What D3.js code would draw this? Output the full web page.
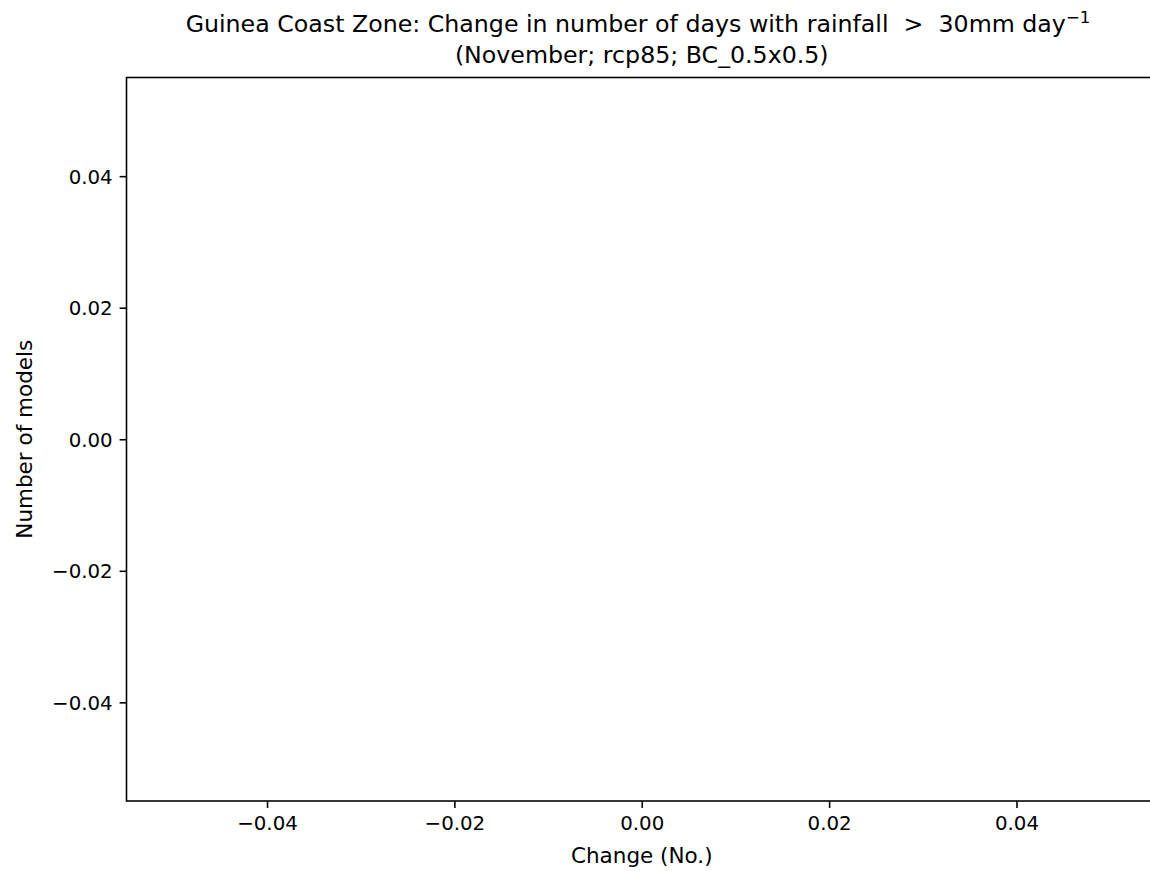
<!DOCTYPE html>
<html>
<head>
<meta charset="utf-8">
<script src="https://cdn.jsdelivr.net/npm/d3@7"></script>
<style>
  html, body { margin: 0; padding: 0; background: #fff; }
  svg { display: block; font-family: "DejaVu Sans", sans-serif; }
</style>
</head>
<body>
<svg id="chart" width="1150" height="871"></svg>
<script>
// ---- data (the reference histogram is empty: no model values) ----
const changeValues = [];            // change per model (none)
const modelCounts = [];             // counts per bin (none)
const xDomain = [-0.055, 0.055];
const yDomain = [-0.055, 0.055];
const xTicks = [-0.04, -0.02, 0.00, 0.02, 0.04];
const yTicks = [-0.04, -0.02, 0.00, 0.02, 0.04];
const titleLine1 = "Guinea Coast Zone: Change in number of days with rainfall  >  30mm day";
const titleSup = "\u22121";
const titleLine2 = "(November; rcp85; BC_0.5x0.5)";
const xLabel = "Change (No.)";
const yLabel = "Number of models";

// ---- layout ----
const svg = d3.select("#chart");
const pL = 126.5, pR = 1157, pT = 77.5, pB = 801;
const tickFont = 19.8, labelFont = 21.5, titleFont = 23.7, tickLen = 6.9, tickPad = 6.9, lw = 1.57;

const x = d3.scaleLinear().domain(xDomain).range([pL, pR]);
const y = d3.scaleLinear().domain(yDomain).range([pB, pT]);
const fmt = d3.format(".2f");

// bars (none in the reference)
svg.append("g").selectAll("rect").data(modelCounts).join("rect");

// axes
const gx = svg.append("g").attr("transform", `translate(0,${pB})`)
  .call(d3.axisBottom(x).tickValues(xTicks).tickFormat(fmt).tickSizeOuter(0).tickSize(tickLen).tickPadding(tickPad));
const gy = svg.append("g").attr("transform", `translate(${pL},0)`)
  .call(d3.axisLeft(y).tickValues(yTicks).tickFormat(fmt).tickSizeOuter(0).tickSize(tickLen).tickPadding(tickPad));
[gx, gy].forEach(g => {
  g.select(".domain").remove();
  g.selectAll(".tick line").attr("stroke", "#000").attr("stroke-width", lw);
  g.selectAll(".tick text").attr("fill", "#000").style("font-size", tickFont + "px")
    .style("font-family", "DejaVu Sans, sans-serif");
});
gx.selectAll(".tick text").attr("dy", "0.78em");
gy.selectAll(".tick text").attr("dy", "0.36em");

// frame (spines)
svg.append("rect").attr("x", pL).attr("y", pT)
  .attr("width", pR - pL).attr("height", pB - pT)
  .attr("fill", "none").attr("stroke", "#000").attr("stroke-width", lw);

// axis labels
svg.append("text").attr("x", (pL + pR) / 2).attr("y", 863)
  .attr("text-anchor", "middle").style("font-size", labelFont + "px").attr("fill", "#000")
  .text(xLabel);
svg.append("text").attr("transform", `translate(31.5,${(pT + pB) / 2}) rotate(-90)`)
  .attr("text-anchor", "middle").style("font-size", labelFont + "px").attr("fill", "#000")
  .text(yLabel);

// title
const t1 = svg.append("text").attr("x", 638).attr("y", 31.7)
  .attr("text-anchor", "middle").style("font-size", titleFont + "px").attr("fill", "#000")
  .style("white-space", "pre").attr("xml:space", "preserve");
t1.append("tspan").text(titleLine1);
t1.append("tspan").attr("dy", -9).style("font-size", (titleFont * 0.7) + "px").text(titleSup);
svg.append("text").attr("x", (pL + pR) / 2).attr("y", 62.5)
  .attr("text-anchor", "middle").style("font-size", titleFont + "px").attr("fill", "#000")
  .text(titleLine2);
</script>
</body>
</html>
